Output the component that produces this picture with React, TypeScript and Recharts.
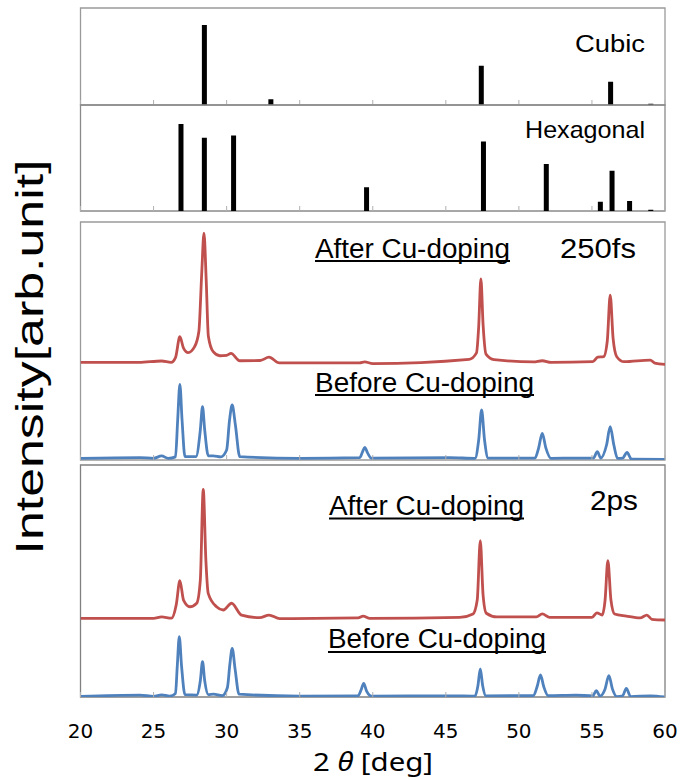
import React from 'react';
import { ComposedChart, Bar, Line, XAxis, YAxis, ReferenceArea } from 'recharts';

// 2θ tick labels shared by all panels
const xTicks = [20, 25, 30, 35, 40, 45, 50, 55, 60];

// reference stick patterns
const cubicPos = [28.45, 33.0, 47.4, 56.25, 59.0];
const cubicInt = [4.95, 0.36, 2.43, 1.44, 0.08];
const hexPos = [26.9, 28.5, 30.5, 39.6, 47.6, 51.9, 55.6, 56.4, 57.6, 59.05];
const hexInt = [4.92, 4.15, 4.28, 1.34, 3.94, 2.66, 0.53, 2.28, 0.57, 0.07];

// 250fs, after Cu-doping (red)
const after250X = [20, 24, 25.55, 26.2, 26.5, 26.8, 27.05, 27.37, 27.8, 28.1, 28.3, 28.45, 28.6, 28.75, 29.08, 29.54, 30.0, 30.3, 30.9, 32.3, 32.9, 33.6, 39.1, 39.45, 40.0, 46.6, 47.1, 47.25, 47.4, 47.55, 47.75, 48.3, 51.0, 51.6, 52.2, 55.06, 55.4, 55.8, 56.05, 56.25, 56.45, 56.7, 57.2, 58.99, 59.3, 60];
const after250Y = [4.1, 4.1, 4.16, 4.1, 4.3, 5.18, 4.7, 4.51, 4.75, 5.4, 7.9, 9.53, 7.6, 5.2, 4.55, 4.38, 4.4, 4.48, 4.17, 4.18, 4.32, 4.08, 4.08, 4.12, 4.05, 4.23, 4.5, 5.6, 7.61, 5.7, 4.45, 4.22, 4.12, 4.17, 4.1, 4.13, 4.32, 4.34, 5.0, 6.93, 5.1, 4.34, 4.13, 4.2, 4.07, 4.02];

// 250fs, before Cu-doping (blue)
const before250X = [20, 24.07, 25.0, 25.55, 26.0, 26.5, 26.65, 26.8, 26.95, 27.15, 27.9, 28.2, 28.35, 28.5, 28.75, 29.08, 29.6, 30.0, 30.2, 30.38, 30.6, 30.9, 35, 39.1, 39.3, 39.45, 39.65, 39.9, 45.27, 47.0, 47.25, 47.45, 47.65, 47.9, 51.1, 51.35, 51.6, 51.85, 52.2, 53.9, 55.1, 55.37, 55.6, 56.0, 56.25, 56.5, 56.75, 57.1, 57.4, 57.7, 60];
const before250Y = [0.07, 0.1, 0.07, 0.17, 0.07, 0.13, 1.68, 3.18, 1.68, 0.14, 0.14, 1.26, 2.24, 1.26, 0.17, 0.17, 0.13, 0.42, 1.68, 2.31, 1.47, 0.14, 0.07, 0.1, 0.34, 0.53, 0.29, 0.08, 0.1, 0.07, 0.84, 2.1, 0.84, 0.08, 0.08, 0.5, 1.12, 0.5, 0.07, 0.08, 0.08, 0.35, 0.08, 0.63, 1.4, 0.63, 0.07, 0.08, 0.32, 0.04, 0.03];

// 2ps, after Cu-doping (red)
const after2X = [20, 25, 25.55, 26.23, 26.55, 26.8, 27.05, 27.49, 27.95, 28.2, 28.4, 28.58, 28.74, 29.31, 29.77, 30.34, 31.02, 32.27, 32.9, 33.63, 39.0, 39.34, 39.8, 45.95, 46.86, 47.15, 47.36, 47.55, 47.77, 48.5, 51.2, 51.6, 52.1, 55.0, 55.34, 55.7, 55.9, 56.09, 56.3, 56.55, 57.35, 58.3, 58.76, 59.1, 60];
const after2Y = [3.39, 3.39, 3.45, 3.4, 3.97, 5.01, 4.18, 3.89, 4.04, 5.04, 8.95, 5.9, 4.47, 3.89, 3.75, 4.04, 3.53, 3.42, 3.53, 3.38, 3.41, 3.49, 3.39, 3.43, 3.58, 4.18, 6.74, 4.4, 3.61, 3.45, 3.45, 3.58, 3.43, 3.43, 3.63, 3.53, 4.18, 5.88, 4.18, 3.58, 3.49, 3.41, 3.53, 3.35, 3.32];

// 2ps, before Cu-doping (blue)
const before2X = [20, 24.07, 25.0, 25.55, 26.1, 26.5, 26.62, 26.76, 26.92, 27.15, 27.95, 28.2, 28.35, 28.5, 28.75, 29.1, 29.7, 30.05, 30.22, 30.38, 30.58, 30.85, 35, 39.0, 39.2, 39.38, 39.58, 39.9, 45.3, 47.0, 47.2, 47.36, 47.52, 47.75, 51.0, 51.25, 51.48, 51.7, 52.0, 53.9, 55.05, 55.3, 55.55, 55.9, 56.16, 56.4, 56.7, 57.1, 57.35, 57.65, 59.0, 60];
const before2Y = [0.03, 0.08, 0.03, 0.09, 0.04, 0.15, 1.3, 2.6, 1.3, 0.1, 0.08, 0.7, 1.52, 0.7, 0.1, 0.12, 0.06, 0.4, 1.4, 2.1, 1.2, 0.12, 0.04, 0.05, 0.3, 0.59, 0.25, 0.04, 0.05, 0.04, 0.5, 1.21, 0.5, 0.05, 0.06, 0.45, 0.95, 0.45, 0.06, 0.08, 0.05, 0.27, 0.04, 0.35, 0.92, 0.35, 0.02, 0.05, 0.37, 0.02, 0.05, 0.0];

const zip = (xs: number[], ys: number[]) => xs.map((x, i) => ({ x, v: ys[i] }));

const RED = '#C0504D';
const BLUE = '#4F81BD';
const W = 687;
const PAD = 4;

const tickRenderer = (withLabel: boolean) => (p: any) => (
  <g>
    <line x1={p.x} x2={p.x} y1={p.y} y2={p.y - 5} stroke="#b0b0b0" />
    {withLabel && (
      <text x={p.x} y={p.y + 41} textAnchor="middle" fontSize={20} fontFamily="DejaVu Sans" fill="#000">
        {p.payload.value}
      </text>
    )}
  </g>
);

function Panel({ top, height, yMax, yTicks, bottom = PAD, labels = false, frame = '#9a9a9a', data, children }: any) {
  return (
    <div style={{ position: 'absolute', left: 0, top: top - PAD }}>
      <ComposedChart width={W} height={height + PAD + bottom + 1} data={data} margin={{ top: PAD, right: 22, bottom, left: 79.5 }}>
        <XAxis dataKey="x" type="number" domain={[20, 60]} ticks={xTicks} interval={0} allowDataOverflow height={1}
          axisLine={false} tickLine={false} tickSize={0} tickMargin={0} tick={tickRenderer(labels)} />
        <YAxis type="number" domain={[0, yMax]} ticks={yTicks || [0]} allowDataOverflow width={1} axisLine={false}
          tick={false} tickLine={yTicks ? { stroke: '#c8c8c8' } : false} tickSize={3} />
        <ReferenceArea x1={20} x2={60} y1={0} y2={yMax} fill="#fff" fillOpacity={0} stroke={frame} strokeWidth={1.3} />
        {children}
      </ComposedChart>
    </div>
  );
}

export default function App() {
  const cubicRows = zip(cubicPos, cubicInt);
  const hexRows = zip(hexPos, hexInt);
  const ticks6 = [0, 1, 2, 3, 4, 5, 6];
  const ticks10 = [0, 1, 2, 3, 4, 5, 6, 7, 8, 9, 10];
  const txt = { fontFamily: 'Liberation Sans, Arial, sans-serif', fill: '#000' };
  return (
    <div style={{ position: 'absolute', left: 0, top: 0, width: W, height: 780, background: '#fff', overflow: 'hidden' }}>
      <Panel top={8} height={97} yMax={6} yTicks={ticks6} data={cubicRows}>
        <Bar dataKey="v" barSize={5} fill="#000" isAnimationActive={false} />
      </Panel>
      <Panel top={105} height={106} yMax={6} yTicks={ticks6} frame="#8a8a8a" data={hexRows}>
        <Bar dataKey="v" barSize={5} fill="#000" isAnimationActive={false} />
      </Panel>
      <Panel top={222} height={238} yMax={10} yTicks={ticks10}>
        <Line data={zip(after250X, after250Y)} dataKey="v" type="monotone" stroke={RED} strokeWidth={2.8} dot={false} isAnimationActive={false} />
        <Line data={zip(before250X, before250Y)} dataKey="v" type="monotone" stroke={BLUE} strokeWidth={2.8} dot={false} isAnimationActive={false} />
      </Panel>
      <Panel top={465} height={232} yMax={10} bottom={60} labels frame="#808080">
        <Line data={zip(after2X, after2Y)} dataKey="v" type="monotone" stroke={RED} strokeWidth={2.8} dot={false} isAnimationActive={false} />
        <Line data={zip(before2X, before2Y)} dataKey="v" type="monotone" stroke={BLUE} strokeWidth={2.8} dot={false} isAnimationActive={false} />
      </Panel>

      <svg width={W} height={780} style={{ position: 'absolute', left: 0, top: 0, pointerEvents: 'none' }}>
        <text x={575} y={52} fontSize={23} textLength={70} lengthAdjust="spacingAndGlyphs" {...txt}>Cubic</text>
        <text x={525} y={137.5} fontSize={24} textLength={120} lengthAdjust="spacingAndGlyphs" {...txt}>Hexagonal</text>

        <text x={315} y={258} fontSize={27} textLength={195} lengthAdjust="spacingAndGlyphs" {...txt}>After Cu-doping</text>
        <line x1={315} x2={510} y1={261} y2={261} stroke="#000" strokeWidth={2} />
        <text x={560} y={258} fontSize={28} textLength={76} lengthAdjust="spacingAndGlyphs" {...txt}>250fs</text>
        <text x={315} y={391.5} fontSize={27} textLength={219} lengthAdjust="spacingAndGlyphs" {...txt}>Before Cu-doping</text>
        <line x1={315} x2={534} y1={395} y2={395} stroke="#000" strokeWidth={2} />

        <text x={329} y={515} fontSize={27} textLength={195} lengthAdjust="spacingAndGlyphs" {...txt}>After Cu-doping</text>
        <line x1={329} x2={524} y1={518.5} y2={518.5} stroke="#000" strokeWidth={2} />
        <text x={590} y={510} fontSize={28} textLength={48} lengthAdjust="spacingAndGlyphs" {...txt}>2ps</text>
        <text x={328} y={648.3} fontSize={27} textLength={218} lengthAdjust="spacingAndGlyphs" {...txt}>Before Cu-doping</text>
        <line x1={328} x2={546} y1={652} y2={652} stroke="#000" strokeWidth={2} />

        <text transform="translate(43, 357) rotate(-90)" textAnchor="middle" fontSize={39} textLength={395}
          lengthAdjust="spacingAndGlyphs" {...txt}>Intensity[arb.unit]</text>

        <text x={373} y={771} textAnchor="middle" fontSize={26} fontFamily="Noto Sans" fill="#000" textLength={120}
          lengthAdjust="spacingAndGlyphs">
          2 <tspan fontStyle="italic">θ</tspan> [deg]
        </text>
      </svg>
    </div>
  );
}
